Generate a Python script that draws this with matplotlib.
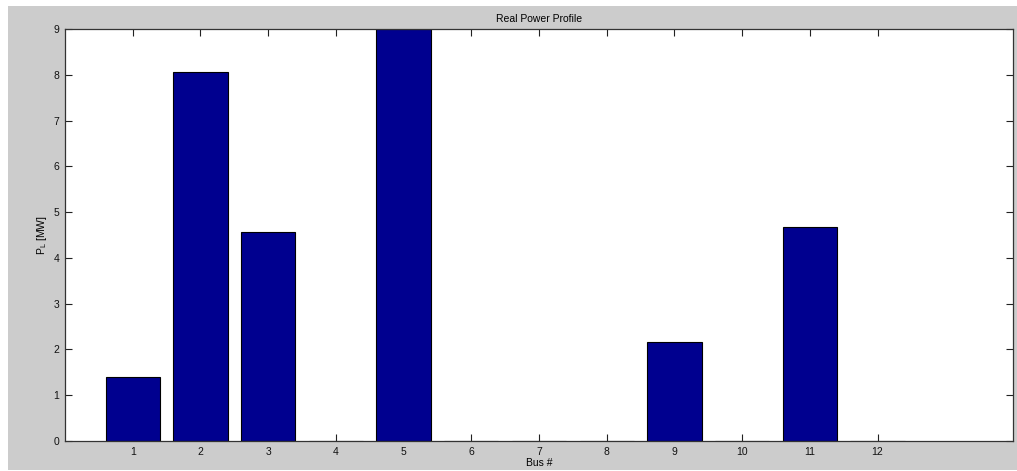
import matplotlib
matplotlib.use("Agg")
import matplotlib.pyplot as plt
from matplotlib.patches import Rectangle

# data
buses = [1, 2, 3, 4, 5, 6, 7, 8, 9, 10, 11, 12]
power_mw = [1.40, 8.05, 4.56, 0.0, 9.0, 0.0, 0.0, 0.0, 2.16, 0.0, 4.67, 0.0]
y_ticks = [0, 1, 2, 3, 4, 5, 6, 7, 8, 9]

plt.rcParams['font.family'] = ['Liberation Sans', 'DejaVu Sans']
plt.rcParams['font.size'] = 7.5

W, H = 1017, 471
fig = plt.figure(figsize=(W / 100, H / 100), dpi=100, facecolor='white')
# grey matlab-style window background, with thin white border left/top
fig.patches.append(Rectangle((8 / W, 1 / H), 1 - 8 / W, 1 - 7 / H,
                             transform=fig.transFigure, facecolor='#cccccc',
                             edgecolor='none', zorder=-10))

ax = fig.add_axes([65 / W, (H - 441) / H, (1013 - 65) / W, (441 - 29) / H])
ax.set_facecolor('white')
ax.set_axisbelow(True)  # bars cover the ticks like in matlab

ax.bar(buses, power_mw, width=0.8, color='#00008f', edgecolor='black', linewidth=0.8)

ax.set_xlim(0, 14)
ax.set_ylim(0, 9)
ax.set_xticks(buses)
ax.set_yticks(y_ticks)
ax.tick_params(direction='in', length=5, width=0.8, top=True, right=True,
               colors='#222222', labelcolor='#111111', pad=4)
for s in ax.spines.values():
    s.set_linewidth(0.9)
    s.set_color('#333333')

ax.set_title("Real Power Profile", fontsize=7.5, pad=5)
ax.set_xlabel("Bus #", labelpad=1)
ax.set_ylabel("P$_\\mathregular{L}$ [MW]", labelpad=3)

fig.savefig("out.png", dpi=100, facecolor=fig.get_facecolor())
